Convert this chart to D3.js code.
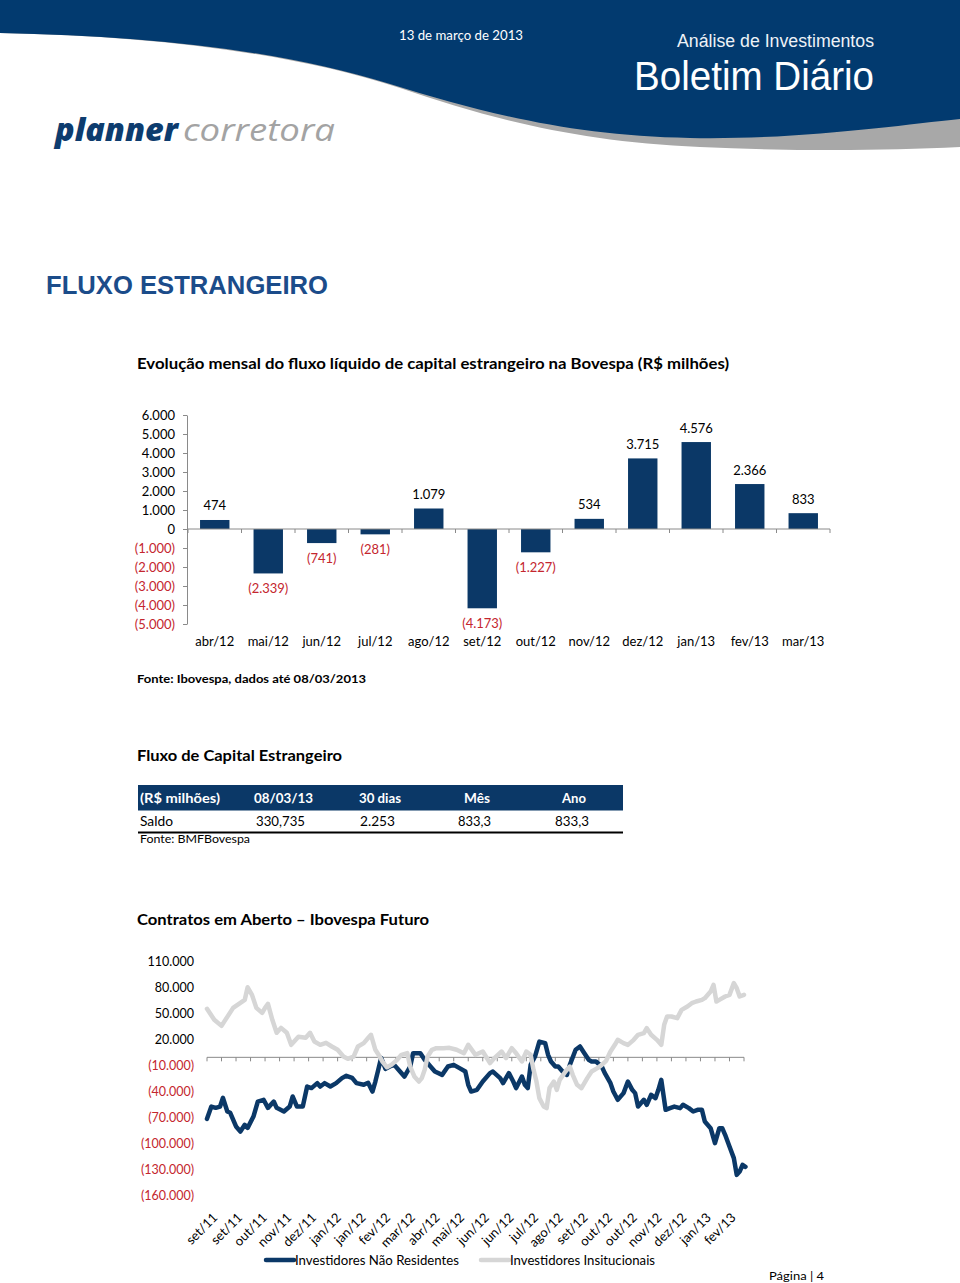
<!DOCTYPE html>
<html><head><meta charset="utf-8">
<script src="https://cdn.jsdelivr.net/npm/d3@7"></script>
<style>body{margin:0;background:#fff}svg{display:block}</style>
</head><body>
<svg id="page" width="960" height="1283"></svg>
<script>
// ---------- DATA ----------
const barCategories = ["abr/12","mai/12","jun/12","jul/12","ago/12","set/12","out/12","nov/12","dez/12","jan/13","fev/13","mar/13"];
const barValues = [474,-2339,-741,-281,1079,-4173,-1227,534,3715,4576,2366,833];
const barTicks = [6000,5000,4000,3000,2000,1000,0,-1000,-2000,-3000,-4000,-5000];

const tableHeaders = ["(R$ milhões)","08/03/13","30 dias","Mês","Ano"];
const tableRow = ["Saldo","330,735","2.253","833,3","833,3"];

const lineTicks = [110,80,50,20,-10,-40,-70,-100,-130,-160]; // thousands of contracts
const lineXLabels = ["set/11","set/11","out/11","nov/11","dez/11","jan/12","jan/12","fev/12","mar/12","abr/12","mai/12","jun/12","jun/12","jul/12","ago/12","set/12","out/12","out/12","nov/12","dez/12","jan/13","fev/13"];
const lineLabelDays = [0,17,34,51,68,85,102,119,136,153,170,187,204,221,238,255,272,289,306,323,340,357];
const lineTickDays = d3.range(0,371,10);

// Investidores Não Residentes (thousands of contracts), by trading day index
const naoResDays = [0,3,6,9,11,14,16,20,23,26,28,32,35,39,42,46,48,53,57,59,62,66,69,72,76,78,81,85,89,93,96,100,103,108,111,114,116,118,120,123,126,129,133,136,140,142,147,150,154,157,162,166,170,174,178,180,182,186,190,195,197,202,204,208,211,213,217,219,221,223,226,229,233,235,237,240,242,245,248,250,254,257,260,263,265,268,272,274,278,280,283,287,290,293,295,297,301,303,306,309,311,313,316,319,322,326,328,332,335,338,341,343,347,349,350,353,355,357,360,363,365,367,369,371];
const naoResValues = [-71.0,-56.8,-58.3,-56.8,-46.7,-62.5,-64.0,-79.8,-85.6,-77.9,-81.4,-68.3,-51.0,-49.0,-58.3,-51.0,-58.3,-62.5,-56.8,-45.2,-56.8,-56.8,-33.7,-35.5,-29.8,-33.7,-29.8,-33.7,-29.8,-24.0,-21.3,-23.7,-29.8,-31.7,-29.4,-39.5,-27.9,-14.4,-0.6,-13.3,-10.6,-8.7,-16.4,-22.2,-10.6,4.8,4.8,-2.9,-10.6,-16.4,-20.2,-10.6,-8.7,-12.5,-16.4,-31.7,-39.5,-37.5,-27.9,-18.2,-16.4,-24.0,-29.8,-18.2,-27.9,-35.5,-22.2,-31.7,-35.5,-8.7,0.9,18.2,16.4,2.9,-4.8,-10.6,-10.6,-16.4,-20.2,-8.7,8.7,12.5,4.8,-2.9,-4.8,-4.8,-10.6,-17.9,-29.8,-39.5,-49.0,-41.3,-27.9,-37.5,-41.3,-56.8,-49.0,-54.8,-43.3,-47.1,-37.5,-26.0,-60.6,-58.6,-56.8,-58.6,-54.8,-58.6,-62.5,-60.6,-60.6,-74.1,-81.7,-93.2,-99.0,-81.7,-81.7,-89.4,-102.9,-116.3,-135.6,-131.8,-124.0,-126.3];

// Investidores Institucionais (thousands of contracts)
const instDays = [0,5,10,14,18,23,26,28,31,34,38,40,42,45,48,51,55,58,63,68,71,74,78,82,86,90,94,97,101,104,108,111,113,116,119,121,124,127,131,134,138,140,143,146,148,150,152,155,158,163,167,172,177,180,185,190,195,198,203,206,210,213,217,220,223,225,227,229,232,234,236,239,241,243,247,250,252,255,258,262,265,269,272,275,278,281,283,287,290,294,297,301,303,306,310,313,315,317,320,324,327,331,334,337,341,343,347,349,351,353,357,360,363,365,367,370];
const instValues = [56.0,43.3,36.3,46.7,57.1,62.9,66.3,80.8,72.1,57.1,51.3,57.1,61.7,43.3,28.3,34.0,28.3,14.4,23.7,22.5,28.3,18.2,14.4,16.7,12.5,8.7,0.9,-1.7,0.9,12.5,16.4,22.2,26.0,8.7,0.9,-5.2,-11.5,-8.7,-2.9,2.9,4.8,-10.6,-22.5,-27.9,-24.0,-14.4,0.9,8.7,10.6,10.6,11.0,8.7,4.8,14.4,2.9,6.7,-6.7,-0.9,6.7,-0.9,10.6,4.8,-4.8,6.7,2.9,-14.4,-27.9,-47.1,-56.8,-58.6,-35.5,-27.9,-37.5,-26.0,-16.4,-10.6,-20.2,-31.7,-35.5,-24.0,-16.4,-12.5,-8.7,-4.0,6.7,14.4,20.2,16.4,14.4,20.2,26.0,27.9,33.7,26.0,20.2,14.4,37.5,47.1,47.1,45.2,54.8,58.6,62.5,64.4,66.3,68.3,75.9,83.7,64.4,66.3,70.2,72.1,85.6,79.8,70.2,72.1];

const seriesNames = ["Investidores Não Residentes","Investidores Insitucionais"];

// ---------- STYLE ----------
const NAVY = '#023a6f', BAR = '#0b3867', RED = '#c4262e', AXIS = '#8a8a8a', GRAYLINE = '#d6d6d6';
const LATO = 'Lato, Carlito, "Open Sans", sans-serif';
const ARIAL = '"Liberation Sans", Arial, sans-serif';
const loc = d3.formatLocale({decimal:',', thousands:'.', grouping:[3], currency:['R$','']});
const fmtInt = loc.format(',d');
const fmtNeg = v => v < 0 ? '(' + fmtInt(-v) + ')' : fmtInt(v);

const svg = d3.select('#page');
const fit = (sel, w) => sel.attr('textLength', w).attr('lengthAdjust', 'spacingAndGlyphs');
function txt(s, x, y, o) {
  const t = svg.append('text').attr('x', x).attr('y', y).text(s)
    .attr('font-family', o.ff || LATO).attr('font-size', o.fs || 13)
    .attr('fill', o.fill || '#000');
  if (o.fw) t.attr('font-weight', o.fw);
  if (o.fst) t.attr('font-style', o.fst);
  if (o.anchor) t.attr('text-anchor', o.anchor);
  if (o.w) fit(t, o.w);
  return t;
}

// ---------- HEADER ----------
svg.append('path').attr('d','M0,0H960V147C880,151 790,151 700,147C580,142 490,119 400,88C290,52 150,36 0,33Z').attr('fill','#a8a8a8');
svg.append('path').attr('d','M0,0H960V119C900,125 800,140 690,138C570,136 480,112 390,84C280,50 150,36 0,33Z').attr('fill',NAVY);
txt('13 de março de 2013', 399, 40, {fs:13, fill:'#fff', w:124});
txt('Análise de Investimentos', 874, 47, {ff:ARIAL, fs:18, fill:'#eef2f7', anchor:'end', w:197});
txt('Boletim Diário', 874, 90, {ff:ARIAL, fs:41, fill:'#fff', anchor:'end', w:240});
txt('planner', 55, 141, {ff:'"Open Sans", sans-serif', fs:31, fw:800, fst:'italic', fill:'#0d3c6e', w:123});
txt('corretora', 183, 141, {ff:'"Open Sans", sans-serif', fs:31, fst:'italic', fill:'#a3a3a3', w:152});

txt('FLUXO ESTRANGEIRO', 46, 294, {ff:ARIAL, fs:25, fw:'bold', fill:'#1b4c8a', w:282});
txt('Evolução mensal do fluxo líquido de capital estrangeiro na Bovespa (R$ milhões)', 137, 369, {fs:16, fw:'bold', w:592});

// ---------- BAR CHART ----------
const yB = d3.scaleLinear().domain([-5000,6000]).range([624,415]);
const xB = d3.scaleBand().domain(barCategories).range([188,830]).paddingInner(0.45).paddingOuter(0.225);
const gB = svg.append('g');
const gyB = gB.append('g').attr('transform','translate(187,0)')
  .call(d3.axisLeft(yB).tickValues(barTicks).tickSize(4).tickSizeOuter(0).tickFormat(fmtNeg));
gyB.select('.domain').attr('stroke',AXIS);
gyB.selectAll('.tick line').attr('stroke',AXIS);
gyB.selectAll('.tick text').attr('x',-12).attr('font-family',LATO).attr('font-size',13)
  .attr('fill', d => d < 0 ? RED : '#000');

gB.selectAll('rect.bar').data(barValues).join('rect').attr('class','bar')
  .attr('x',(d,i)=>xB(barCategories[i])).attr('width',xB.bandwidth())
  .attr('y',d=>Math.min(yB(d),yB(0))).attr('height',d=>Math.abs(yB(d)-yB(0)))
  .attr('fill',BAR);

const gap = (xB.step()-xB.bandwidth())/2;
const bounds = barCategories.map(c => xB(c)-gap).concat([xB.range()[1]]);
gB.append('line').attr('x1',187).attr('x2',xB.range()[1]).attr('y1',yB(0)).attr('y2',yB(0)).attr('stroke',AXIS);
gB.selectAll('line.xt').data(bounds).join('line').attr('class','xt')
  .attr('x1',d=>d).attr('x2',d=>d).attr('y1',yB(0)).attr('y2',yB(0)+4).attr('stroke',AXIS);
gB.selectAll('text.cat').data(barCategories).join('text').attr('class','cat')
  .attr('x',d=>xB(d)+xB.bandwidth()/2).attr('y',646).attr('text-anchor','middle')
  .attr('font-family',LATO).attr('font-size',13).text(d=>d);
gB.selectAll('text.val').data(barValues).join('text').attr('class','val')
  .attr('x',(d,i)=>xB(barCategories[i])+xB.bandwidth()/2)
  .attr('y',d=> d>=0 ? yB(d)-9.5 : yB(d)+19.5).attr('text-anchor','middle')
  .attr('font-family',LATO).attr('font-size',13).attr('fill',d=>d<0?RED:'#000').text(fmtNeg);

txt('Fonte: Ibovespa, dados até 08/03/2013', 137, 683, {fs:12, fw:'bold', w:229});

// ---------- TABLE ----------
txt('Fluxo de Capital Estrangeiro', 137, 761, {fs:16, fw:'bold', w:205});
const colX = [140,254,359,464,562];
const colXRow = [140,256,360,458,555];
const hdrW = [80,59,42,26,24];
const rowW = [33,49,35,33,34];
svg.append('rect').attr('x',138).attr('y',785).attr('width',485).attr('height',25.5).attr('fill',BAR);
tableHeaders.forEach((h,i)=>txt(h, colX[i], 803, {fs:14, fw:'bold', fill:'#fff', w:hdrW[i]}));
tableRow.forEach((h,i)=>txt(h, colXRow[i], 826, {fs:14, w:rowW[i]}));
svg.append('line').attr('x1',138).attr('x2',623).attr('y1',832.5).attr('y2',832.5).attr('stroke','#000').attr('stroke-width',2);
txt('Fonte: BMFBovespa', 140, 843, {fs:12, w:110});

// ---------- LINE CHART ----------
txt('Contratos em Aberto – Ibovespa Futuro', 137, 925, {fs:16, fw:'bold', w:292});
const xL = d3.scaleLinear().domain([0,370]).range([207,744]);
const yL = d3.scaleLinear().domain([-160,110]).range([1196,962]);
const gL = svg.append('g');
gL.selectAll('text.yl').data(lineTicks).join('text').attr('class','yl')
  .attr('x',194).attr('y',d=>yL(d)).attr('dy','0.35em').attr('text-anchor','end')
  .attr('font-family',LATO).attr('font-size',12.5).attr('fill',d=>d<0?RED:'#000')
  .text(d=>fmtNeg(d*1000));
gL.append('line').attr('x1',xL(0)).attr('x2',xL(370)).attr('y1',yL(0)).attr('y2',yL(0)).attr('stroke',AXIS);
gL.selectAll('line.xt').data(lineTickDays).join('line').attr('class','xt')
  .attr('x1',d=>xL(d)).attr('x2',d=>xL(d)).attr('y1',yL(0)).attr('y2',yL(0)+4).attr('stroke',AXIS);

const lineGen = d3.line().x(d=>xL(d[0])).y(d=>yL(d[1])).curve(d3.curveLinear);
const naoRes = naoResDays.map((d,i)=>[d,naoResValues[i]]);
const inst = instDays.map((d,i)=>[d,instValues[i]]);
gL.append('path').attr('d',lineGen(naoRes)).attr('fill','none').attr('stroke',BAR)
  .attr('stroke-width',4.5).attr('stroke-linejoin','round').attr('stroke-linecap','round');
gL.append('path').attr('d',lineGen(inst)).attr('fill','none').attr('stroke',GRAYLINE)
  .attr('stroke-width',4.5).attr('stroke-linejoin','round').attr('stroke-linecap','round');

gL.selectAll('text.xl').data(lineXLabels).join('text').attr('class','xl')
  .attr('transform',(d,i)=>`translate(${xL(lineLabelDays[i])+5},1212) rotate(-45)`)
  .attr('text-anchor','end').attr('dy','0.7em')
  .attr('font-family',LATO).attr('font-size',13).text(d=>d);

// legend
const legX = [266,481];
const legCol = [BAR, GRAYLINE];
const legW = [164,145];
seriesNames.forEach((n,i)=>{
  svg.append('line').attr('x1',legX[i]).attr('x2',legX[i]+28).attr('y1',1260).attr('y2',1260)
    .attr('stroke',legCol[i]).attr('stroke-width',4.5).attr('stroke-linecap','round');
  txt(n, legX[i]+29, 1264.5, {fs:13, w:legW[i]});
});

txt('Página | 4', 769, 1280, {fs:12, w:55});
</script>
</body></html>
